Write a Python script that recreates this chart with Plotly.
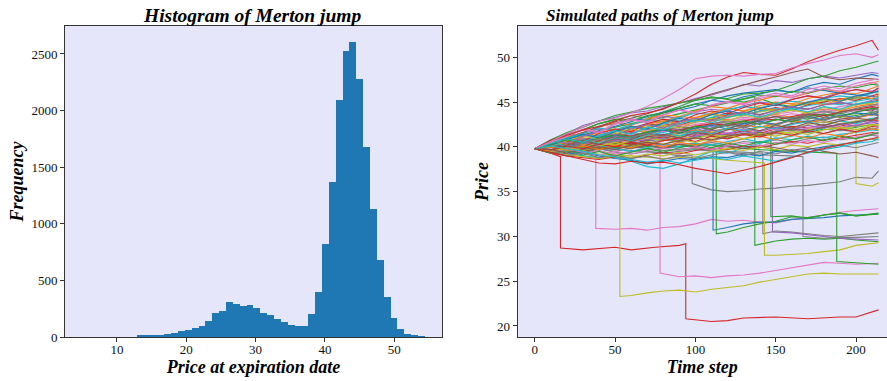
import plotly.graph_objects as go

# ---------------- Histogram data ----------------
HIST_FIRST_EDGE = 4.97
HIST_BIN_WIDTH = 0.989
HIST_COUNTS = [0, 0, 0, 0, 0, 0, 0, 0,
               18, 9, 15, 18, 29, 38, 50, 62, 77, 97,
               138, 212, 230, 306, 289, 271, 286, 253, 215, 191,
               159, 135, 106, 97, 97, 200, 400, 819, 1369, 2094,
               2527, 2606, 2282, 1679, 1128, 677, 356, 171, 68, 24, 9, 2]

# ---------------- Simulated paths ----------------
T_GRID = [0, 10, 20, 30, 40, 50, 60, 70, 80, 90, 100, 110, 120, 130, 140,
          150, 160, 170, 180, 190, 200, 210, 214]

FAN_PATHS = [
    [39.8,40.6,41.2,41.5,42.3,42.6,43.1,43.0,43.8,44.1,44.5,45.2,45.0,45.6,45.9,46.3,46.1,46.8,47.2,47.0,47.6,48.1,47.9],
    [39.8,40.2,40.5,41.0,40.8,41.4,41.9,41.6,42.2,42.5,42.3,42.9,43.1,42.8,43.4,43.6,43.3,43.9,44.2,44.0,44.5,44.8,44.6],
    [39.8,39.5,39.9,40.3,40.0,40.4,40.2,40.7,40.9,40.6,41.1,41.3,41.0,41.5,41.2,41.7,41.9,41.6,42.0,41.8,42.2,42.5,42.3],
    [39.8,40.3,40.9,40.6,41.3,41.8,41.5,42.2,42.6,42.4,43.0,43.2,43.8,43.5,44.0,44.4,44.1,44.7,45.0,45.4,45.2,45.7,45.9],
    [39.8,40.5,40.9,41.6,42.0,41.8,42.5,42.9,43.4,43.2,43.9,44.2,44.0,44.6,45.0,44.8,45.3,45.7,45.5,46.1,46.4,46.2,46.5],
    [39.8,40.0,39.7,40.2,40.6,40.4,40.9,41.2,41.0,41.5,41.3,41.8,42.0,41.7,42.3,42.1,42.6,42.9,42.7,43.1,43.3,43.6,43.5],
    [39.8,40.4,40.1,40.8,41.3,41.1,41.7,42.0,41.8,42.4,42.7,42.5,43.0,43.3,43.1,43.7,43.9,44.3,44.1,44.5,44.8,45.0,44.9],
    [39.8,39.4,39.6,39.3,39.8,39.5,39.9,40.2,39.8,40.3,40.1,40.5,40.2,40.6,40.4,40.8,40.5,40.9,41.1,40.8,41.0,41.3,41.2],
    [39.8,40.1,40.5,40.3,40.8,41.1,40.9,41.3,41.0,41.5,41.8,41.6,42.0,41.7,42.2,42.4,42.1,42.5,42.8,42.6,42.9,43.2,43.0],
    [39.8,39.6,40.0,39.7,40.1,39.8,39.5,39.9,40.3,40.0,40.4,40.2,40.6,40.9,40.5,41.0,40.8,41.2,41.0,41.4,41.6,41.9,41.8],
    [39.8,40.3,40.0,40.6,41.0,40.7,41.2,41.5,41.3,41.9,41.6,42.1,42.4,42.2,42.7,42.5,43.0,42.8,43.2,43.5,43.3,43.7,43.6],
    [39.8,40.2,40.8,41.3,41.1,41.8,42.3,42.1,42.9,43.4,43.2,43.8,44.3,44.0,44.6,45.0,44.8,45.4,45.8,46.1,45.9,46.6,46.8],
    [39.8,40.6,41.4,41.9,42.6,43.0,43.5,43.2,43.9,44.5,45.2,45.6,45.3,45.0,45.4,44.8,44.5,44.9,45.3,45.1,45.5,45.4,45.3],
    [39.8,39.7,40.1,40.4,40.2,40.6,40.3,40.8,41.1,40.8,41.3,41.6,41.4,41.8,41.5,42.0,42.3,42.1,42.5,42.3,42.7,43.0,42.9],
    [39.8,40.0,40.4,40.9,40.7,41.2,41.5,41.2,41.7,42.0,41.8,42.3,42.6,42.4,42.9,43.1,42.8,43.4,43.6,43.4,43.9,44.2,44.1],
    [39.8,40.4,40.8,41.4,41.2,41.8,42.1,42.6,42.3,42.8,43.2,43.0,43.6,43.9,43.6,44.1,44.4,44.2,44.7,44.9,44.7,45.1,45.2],
    [39.8,39.9,40.3,40.1,40.5,40.8,40.5,41.0,40.7,41.1,41.4,41.2,41.6,41.3,41.8,42.0,41.7,42.1,42.4,42.2,42.5,42.8,42.6],
    [39.8,40.5,40.9,40.7,41.3,41.0,41.6,42.0,41.7,42.3,42.1,42.6,42.9,42.6,43.1,43.4,43.2,43.6,43.9,43.7,44.1,44.4,44.3],
    [39.8,40.2,40.7,41.1,41.6,41.4,42.0,42.4,42.2,42.8,43.1,43.6,43.3,43.9,44.2,44.0,44.6,44.9,45.3,45.1,45.6,46.1,46.0],
    [39.8,39.7,39.4,39.0,38.8,38.9,38.4,37.8,37.6,38.1,38.8,39.5,39.3,39.9,40.4,40.9,41.2,41.7,42.1,42.5,42.8,43.1,43.3],
    [39.8,39.5,39.2,39.4,39.0,38.7,38.5,38.1,38.4,38.7,38.6,38.9,38.8,39.2,39.0,39.5,39.3,39.7,40.0,40.3,40.5,40.9,40.8],
    [39.8,40.6,41.1,41.6,42.2,42.7,42.4,43.1,43.6,43.4,44.0,44.5,44.3,44.9,45.2,45.7,45.5,46.0,46.4,46.2,46.8,47.1,47.3],
    [39.8,40.1,40.6,40.4,40.9,41.3,41.0,41.5,41.8,42.2,42.0,42.5,42.3,42.8,42.6,43.0,43.3,43.1,43.5,43.7,43.5,43.9,44.0],
    [39.8,39.3,39.0,38.8,38.6,38.9,38.7,39.1,39.4,39.2,39.6,39.9,39.7,40.1,39.9,40.3,40.6,40.4,40.8,41.0,41.3,41.6,41.5],
    [39.8,40.7,41.5,42.4,42.9,43.3,43.8,44.0,44.5,44.9,45.4,45.8,46.3,47.0,46.8,47.4,47.2,47.6,47.9,47.7,48.0,48.3,48.2],
    [39.8,40.4,41.0,41.6,42.2,42.8,43.2,43.7,44.3,44.9,45.3,45.9,46.4,46.9,47.4,47.8,48.3,48.7,47.8,47.5,47.7,47.6,47.5],
    [39.8,40.3,40.1,40.7,41.2,41.0,41.6,41.9,41.7,42.2,42.5,42.3,42.8,43.1,42.9,43.4,43.7,43.5,43.9,44.2,44.0,44.5,44.7],
    [39.8,40.1,39.8,40.2,40.5,40.2,40.6,40.4,40.8,40.5,41.0,40.7,41.1,41.4,41.1,41.5,41.3,41.7,41.5,41.9,41.7,42.1,42.0],
    [39.8,39.5,39.1,38.9,38.7,39.0,38.8,39.2,39.0,39.4,39.1,39.5,39.8,39.6,40.0,39.7,40.2,40.0,40.4,40.2,40.6,40.9,41.0],
    [39.8,40.5,41.0,41.5,42.1,41.9,42.5,43.0,42.8,43.3,43.8,43.6,44.2,44.5,44.3,44.9,45.1,44.9,45.4,45.7,45.5,46.0,46.3],
    [39.8,40.3,40.9,41.3,41.8,42.3,42.8,43.4,43.9,44.3,44.8,45.2,45.7,46.0,46.2,46.4,46.1,46.6,46.3,46.0,45.8,45.7,45.6],
    [39.8,40.0,40.5,40.2,40.7,41.0,40.8,41.3,41.1,41.6,41.9,41.6,42.1,42.4,42.2,42.6,42.9,42.7,43.1,43.4,43.2,43.6,43.8],
    [39.8,40.6,41.3,41.9,42.6,43.1,42.9,43.5,43.8,44.3,44.8,44.6,45.0,45.4,45.8,45.6,46.2,46.0,46.5,46.8,46.6,47.0,46.9],
    [39.8,40.2,40.7,40.5,41.0,41.4,41.2,41.7,42.0,41.8,42.3,42.6,42.4,42.9,43.2,43.0,43.4,43.7,43.5,43.9,44.2,44.5,44.4],
    [39.8,40.3,40.0,40.4,40.2,40.6,40.9,40.6,41.0,40.8,41.2,41.5,41.3,41.7,41.4,41.8,42.1,41.9,42.3,42.1,42.4,42.7,42.6],
    [39.8,39.6,39.9,39.5,39.8,40.1,39.8,40.2,39.9,40.3,40.0,39.7,40.1,39.8,40.2,39.9,39.6,39.9,39.5,39.2,39.4,39.0,38.8],
    [39.8,39.4,39.7,39.4,39.1,39.5,39.2,39.6,39.9,39.6,40.0,39.7,40.1,40.4,40.1,40.5,40.3,40.7,40.5,40.9,41.1,41.4,41.3],
    [39.8,40.4,40.2,40.8,41.2,41.0,41.6,41.4,41.9,42.2,42.0,42.5,42.8,42.6,43.1,43.4,43.2,43.7,44.0,43.8,44.3,44.6,44.8],
    [39.8,40.0,40.3,40.0,40.5,40.2,40.7,41.0,40.7,41.2,40.9,41.4,41.1,41.5,41.3,41.7,41.5,41.9,42.2,42.0,42.3,42.5,42.4],
    [39.8,40.4,40.9,41.4,41.2,41.8,42.2,42.0,42.6,43.0,42.8,43.3,43.7,43.5,44.0,44.3,44.1,44.6,44.9,44.7,45.1,45.4,45.5],
    [39.8,40.2,39.9,40.5,40.9,41.3,41.0,41.6,41.9,41.5,42.1,42.4,42.0,42.6,42.9,42.5,43.1,43.4,43.0,43.5,43.8,43.6,43.9],
    [39.8,40.6,40.3,41.1,41.6,42.0,41.7,42.5,42.9,42.6,43.3,43.7,43.4,44.0,44.4,44.1,44.7,45.0,44.7,45.3,45.6,45.4,45.8],
    [39.8,39.3,39.6,39.1,39.5,39.0,39.4,39.8,39.4,39.9,40.3,39.9,40.4,40.1,40.6,40.3,40.8,41.1,40.7,41.2,40.9,41.4,41.6],
    [39.8,40.3,40.9,40.6,41.5,42.0,41.7,42.6,43.1,42.8,43.6,44.0,43.7,44.4,44.9,44.6,45.3,45.7,45.4,46.0,46.4,46.1,46.6],
    [39.8,40.4,40.0,40.6,40.2,40.8,41.2,40.8,41.3,41.0,41.5,41.9,41.5,42.0,41.7,42.2,41.9,42.4,42.1,42.6,42.3,42.9,42.8],
    [39.8,39.9,40.4,40.0,40.7,41.1,40.8,41.5,41.2,41.9,42.3,41.9,42.6,42.3,43.0,43.4,43.0,43.6,43.3,43.9,44.2,44.0,44.5],
    [39.8,40.8,41.3,42.0,41.7,42.6,43.1,42.8,43.6,44.1,43.8,44.6,45.0,44.7,45.4,45.8,45.5,46.1,46.5,46.2,46.8,47.2,47.0],
    [39.8,39.5,39.0,39.3,38.8,39.1,38.7,39.0,38.6,39.0,38.7,39.1,39.4,39.0,39.5,39.2,39.7,39.4,39.9,40.2,39.9,40.3,40.5],
    [39.8,40.1,40.7,41.2,40.9,41.6,42.0,41.7,42.4,42.1,42.8,43.2,42.9,43.5,43.2,43.8,44.1,43.8,44.4,44.1,44.7,44.9,45.0],
    [39.8,40.5,40.1,40.8,40.4,41.0,40.7,41.3,41.6,41.2,41.8,41.5,42.1,41.8,42.3,42.0,42.5,42.8,42.4,42.9,42.6,43.2,43.1],
    [39.8,40.2,40.8,41.4,41.0,41.7,42.3,42.0,42.7,43.2,42.9,43.6,44.0,43.7,44.3,44.7,44.4,45.0,45.4,45.1,45.7,46.0,46.2],
    [39.8,40.0,39.6,40.1,39.7,40.2,39.9,40.4,40.0,40.5,40.2,40.7,40.4,40.9,41.2,40.8,41.3,41.0,41.5,41.2,41.7,42.0,41.9],
    [39.8,40.3,40.8,40.4,41.0,41.4,41.1,41.7,42.0,41.6,42.3,42.0,42.6,42.9,42.5,43.1,42.8,43.4,43.7,43.3,43.9,44.3,44.2],
    [39.8,39.6,40.1,39.8,40.3,40.0,40.5,40.2,40.7,41.0,40.6,41.2,40.9,41.4,41.1,41.6,41.3,41.8,41.5,42.0,41.7,42.3,42.2],
    [39.8,40.7,40.4,41.2,41.7,41.3,42.0,42.5,42.1,42.8,43.2,42.9,43.5,43.9,43.5,44.1,44.5,44.2,44.7,45.0,44.7,45.2,45.4],
    [39.8,39.7,40.2,40.7,40.3,40.9,40.6,41.1,41.4,41.0,41.6,41.3,41.9,42.2,41.8,42.4,42.1,42.7,42.4,42.9,43.2,43.0,43.4],
    [39.8,40.5,41.2,41.9,41.6,42.5,43.0,42.7,43.6,44.1,43.8,44.7,45.1,44.8,45.6,46.0,45.7,46.4,46.8,46.5,47.1,47.5,47.6],
    [39.8,40.1,39.8,40.4,40.9,40.5,41.1,41.5,41.1,41.8,41.4,42.1,42.5,42.1,42.7,42.4,43.0,43.3,42.9,43.5,43.2,43.8,44.0],
    [39.8,39.5,39.9,39.6,40.1,40.5,40.1,40.6,40.3,40.8,40.5,41.0,41.3,40.9,41.5,41.2,41.7,41.4,41.9,42.2,41.9,42.4,42.5],
    [39.8,40.4,40.9,40.5,41.3,41.8,41.4,42.2,41.9,42.6,43.0,42.7,43.3,43.7,43.3,43.9,44.3,43.9,44.5,44.2,44.8,45.0,45.1],
    [39.8,40.8,41.6,42.2,42.9,43.5,43.9,44.3,44.6,44.9,45.2,45.5,45.4,45.9,46.0,46.3,46.9,47.6,47.9,48.5,48.9,49.4,49.6],
    [39.8,40.7,41.3,41.9,42.3,42.9,43.5,43.8,44.2,45.0,45.9,47.0,47.8,48.3,48.1,48.0,48.7,49.5,50.2,50.8,51.3,51.9,50.8],
    [39.8,40.6,41.5,42.2,42.9,43.2,43.8,44.5,45.4,46.4,47.6,47.9,48.0,47.9,48.1,48.2,48.8,49.3,49.7,50.2,50.4,50.0,50.3],
    [39.8,39.7,39.3,39.7,40.0,39.7,40.2,40.5,40.3,40.7,41.0,40.8,41.2,41.5,41.3,41.7,42.0,41.8,42.2,42.5,42.8,43.0,43.2],
    [39.8,40.1,39.8,39.5,39.1,38.9,38.6,38.3,38.5,38.2,38.5,38.8,38.6,39.0,38.7,38.4,38.9,39.3,39.7,40.0,40.4,40.6,40.9],
    [39.8,39.4,39.0,38.6,38.2,38.1,38.4,38.2,38.3,38.0,37.6,37.3,37.0,37.4,37.8,38.3,38.8,39.4,39.8,40.2,40.6,40.9,41.1],
]

# paths with a jump: their own time stamps (the jump is the repeated time)
JUMP_TIMES = [
    [0,10,16,16,30,50,60,75,90,94,94,100,110,120,130,150,170,190,200,214],
    [0,10,20,30,38,38,50,60,70,80,90,100,110,120,130,140,150,160,170,180,190,200,214],
    [0,10,20,30,40,53,53,60,70,80,90,100,110,120,130,140,150,160,170,180,190,200,214],
    [0,10,20,30,40,50,60,70,78,78,90,100,110,120,130,140,150,160,170,180,190,200,214],
    [0,10,20,30,40,50,60,70,80,90,98,98,110,120,130,140,150,160,170,180,190,200,210,214],
    [0,20,40,60,80,100,111,111,120,130,140,150,160,170,180,190,200,214],
    [0,20,40,60,80,100,113,113,120,130,140,150,160,170,180,190,200,214],
    [0,20,40,60,80,100,120,137,137,150,160,170,180,190,200,214],
    [0,20,40,60,80,100,120,142,142,150,160,170,180,190,200,214],
    [0,20,40,60,80,100,120,143,143,150,160,170,180,190,200,214],
    [0,20,40,60,80,100,120,140,148,148,160,170,180,190,200,214],
    [0,20,40,60,80,100,120,140,147,147,160,170,180,190,200,214],
    [0,20,40,60,80,100,120,140,160,167,167,180,190,200,214],
    [0,20,40,60,80,100,120,140,160,180,188,188,200,214],
    [0,20,40,60,80,100,120,140,160,180,200,200,210,214],
]
JUMP_VALUES = [
    [39.8,39.3,38.9,28.7,28.5,28.8,28.5,28.8,29.0,29.2,20.8,20.7,20.5,20.6,20.9,21.0,20.8,21.0,21.0,21.8],
    [39.8,40.5,41.2,41.5,41.9,30.9,30.8,30.9,30.7,31.0,31.1,31.4,31.9,31.7,31.8,31.6,31.5,31.9,32.1,32.4,32.7,32.9,33.1],
    [39.8,39.5,39.2,39.0,38.7,38.9,23.3,23.4,23.7,23.9,24.0,23.8,24.1,24.3,24.5,24.9,25.2,25.5,25.8,25.9,25.8,25.8,25.8],
    [39.8,39.5,39.7,39.3,39.6,39.2,39.5,39.8,39.7,25.9,25.5,25.6,25.4,25.6,25.7,25.9,26.2,26.5,26.8,27.1,27.0,26.9,27.0],
    [39.8,39.6,39.9,39.5,39.8,39.4,39.2,39.5,39.3,39.0,39.1,35.9,35.2,35.0,35.1,35.3,35.4,35.6,35.7,35.9,36.1,36.6,36.5,37.3],
    [39.8,40.3,40.0,40.4,39.9,40.1,39.7,30.7,31.0,31.4,31.6,31.6,31.9,32.0,32.1,32.3,32.4,32.5],
    [39.8,40.2,39.7,40.1,39.6,39.8,39.5,30.3,30.5,31.0,31.4,31.7,32.2,32.1,32.4,32.6,32.3,32.5],
    [39.8,40.9,41.8,42.6,43.3,44.1,44.9,45.6,29.0,29.5,29.7,29.8,29.7,29.8,29.6,29.4],
    [39.8,40.1,39.7,40.0,39.6,39.9,39.5,39.3,30.3,30.6,30.5,30.3,30.1,30.0,30.2,30.4],
    [39.8,39.5,39.2,39.0,38.7,38.9,38.5,38.2,27.9,27.9,28.0,28.1,28.3,28.5,29.0,29.3],
    [39.8,40.3,40.0,40.5,40.2,40.4,40.1,40.0,39.8,30.5,30.4,30.2,30.0,29.8,29.7,29.6],
    [39.8,40.4,40.9,41.2,41.0,41.5,41.3,41.6,41.4,32.2,32.3,32.0,32.4,32.6,32.3,32.6],
    [39.8,39.5,39.9,39.6,39.3,39.7,39.4,39.1,39.0,38.9,30.0,29.8,29.9,29.9,30.0],
    [39.8,40.1,39.7,40.2,39.9,40.3,40.0,39.7,39.5,39.4,39.3,27.2,27.1,26.9],
    [39.8,40.4,41.1,41.7,42.2,42.8,43.3,43.9,44.5,45.1,45.6,35.9,35.6,36.0],
]

X_TICKS_LEFT = [10, 20, 30, 40, 50]
Y_TICKS_LEFT = [0, 500, 1000, 1500, 2000, 2500]
X_TICKS_RIGHT = [0, 50, 100, 150, 200]
Y_TICKS_RIGHT = [20, 25, 30, 35, 40, 45, 50]

# ---------------- styles ----------------
TAB10 = ["#1f77b4", "#ff7f0e", "#2ca02c", "#d62728", "#9467bd",
         "#8c564b", "#e377c2", "#7f7f7f", "#bcbd22", "#17becf"]
N_CYCLE = len(FAN_PATHS) - 6
FAN_COLORS = [TAB10[i % 10] for i in range(N_CYCLE)] + \
    ["#2ca02c", "#d62728", "#e377c2", "#8c564b", "#17becf", "#d62728"]
JUMP_COLORS = ["#d62728", "#e377c2", "#bcbd22", "#e377c2", "#7f7f7f",
               "#1f77b4", "#2ca02c", "#2ca02c", "#7f7f7f", "#bcbd22",
               "#9467bd", "#2ca02c", "#7f7f7f", "#2ca02c", "#bcbd22"]

SERIF = "Liberation Serif, Times New Roman, serif"
BG = "#e6e6fa"
SPINE = "#333333"

fig = go.Figure()

bin_centers = [HIST_FIRST_EDGE + HIST_BIN_WIDTH * (i + 0.5) for i in range(len(HIST_COUNTS))]
fig.add_trace(go.Bar(x=bin_centers, y=HIST_COUNTS, width=HIST_BIN_WIDTH,
                     marker=dict(color="#1f77b4", line=dict(width=0)),
                     xaxis="x", yaxis="y", showlegend=False))

for times, vals, col in zip(JUMP_TIMES, JUMP_VALUES, JUMP_COLORS):
    fig.add_trace(go.Scatter(x=times, y=vals, mode="lines",
                             line=dict(color=col, width=1.1),
                             xaxis="x2", yaxis="y2", showlegend=False))
for vals, col in zip(FAN_PATHS, FAN_COLORS):
    fig.add_trace(go.Scatter(x=T_GRID, y=vals, mode="lines",
                             line=dict(color=col, width=1.1),
                             xaxis="x2", yaxis="y2", showlegend=False))

tickfont = dict(family=SERIF, size=13, color="#111111")
labelfont = dict(family=SERIF, size=18, color="black", weight="bold", style="italic")

common = dict(showline=True, linecolor=SPINE, linewidth=1, mirror=True,
              ticks="outside", ticklen=4, tickcolor=SPINE, tickwidth=1,
              showgrid=False, zeroline=False, tickfont=tickfont, automargin=False)

Y0, Y1 = 44 / 381, 355 / 381
fig.update_layout(
    width=887, height=381,
    margin=dict(l=0, r=0, t=0, b=0, pad=0),
    paper_bgcolor="white",
    plot_bgcolor=BG,
    bargap=0,
    xaxis=dict(domain=[65 / 887, 442 / 887], range=[2.5, 56.9],
               tickvals=X_TICKS_LEFT, anchor="y", ticklabelstandoff=-4,
               title=dict(text="Price at expiration date", font=labelfont, standoff=2),
               **common),
    yaxis=dict(domain=[Y0, Y1], range=[0, 2747], tickvals=Y_TICKS_LEFT, anchor="x",
               title=dict(text="Frequency", font=labelfont, standoff=3),
               **common),
    xaxis2=dict(domain=[517.5 / 887, 1.0], range=[-10.75, 219.3],
                tickvals=X_TICKS_RIGHT, anchor="y2", ticklabelstandoff=-4,
                title=dict(text="Time step", font=labelfont, standoff=2),
                **common),
    yaxis2=dict(domain=[Y0, Y1], range=[18.77, 53.5], tickvals=Y_TICKS_RIGHT, anchor="x2",
                title=dict(text="Price", font=labelfont, standoff=3),
                **common),
    annotations=[
        dict(text="Histogram of Merton jump", x=252 / 887, y=1 - 15 / 381,
             xref="paper", yref="paper", showarrow=False,
             font=dict(family=SERIF, size=19.5, color="black", weight="bold", style="italic"),
             xanchor="center", yanchor="middle"),
        dict(text="Simulated paths of Merton jump", x=660 / 887, y=1 - 15 / 381,
             xref="paper", yref="paper", showarrow=False,
             font=dict(family=SERIF, size=17, color="black", weight="bold", style="italic"),
             xanchor="center", yanchor="middle"),
    ],
)

fig.write_html("out.html", config={"displayModeBar": False},
               post_script="document.body.style.margin='0';")
